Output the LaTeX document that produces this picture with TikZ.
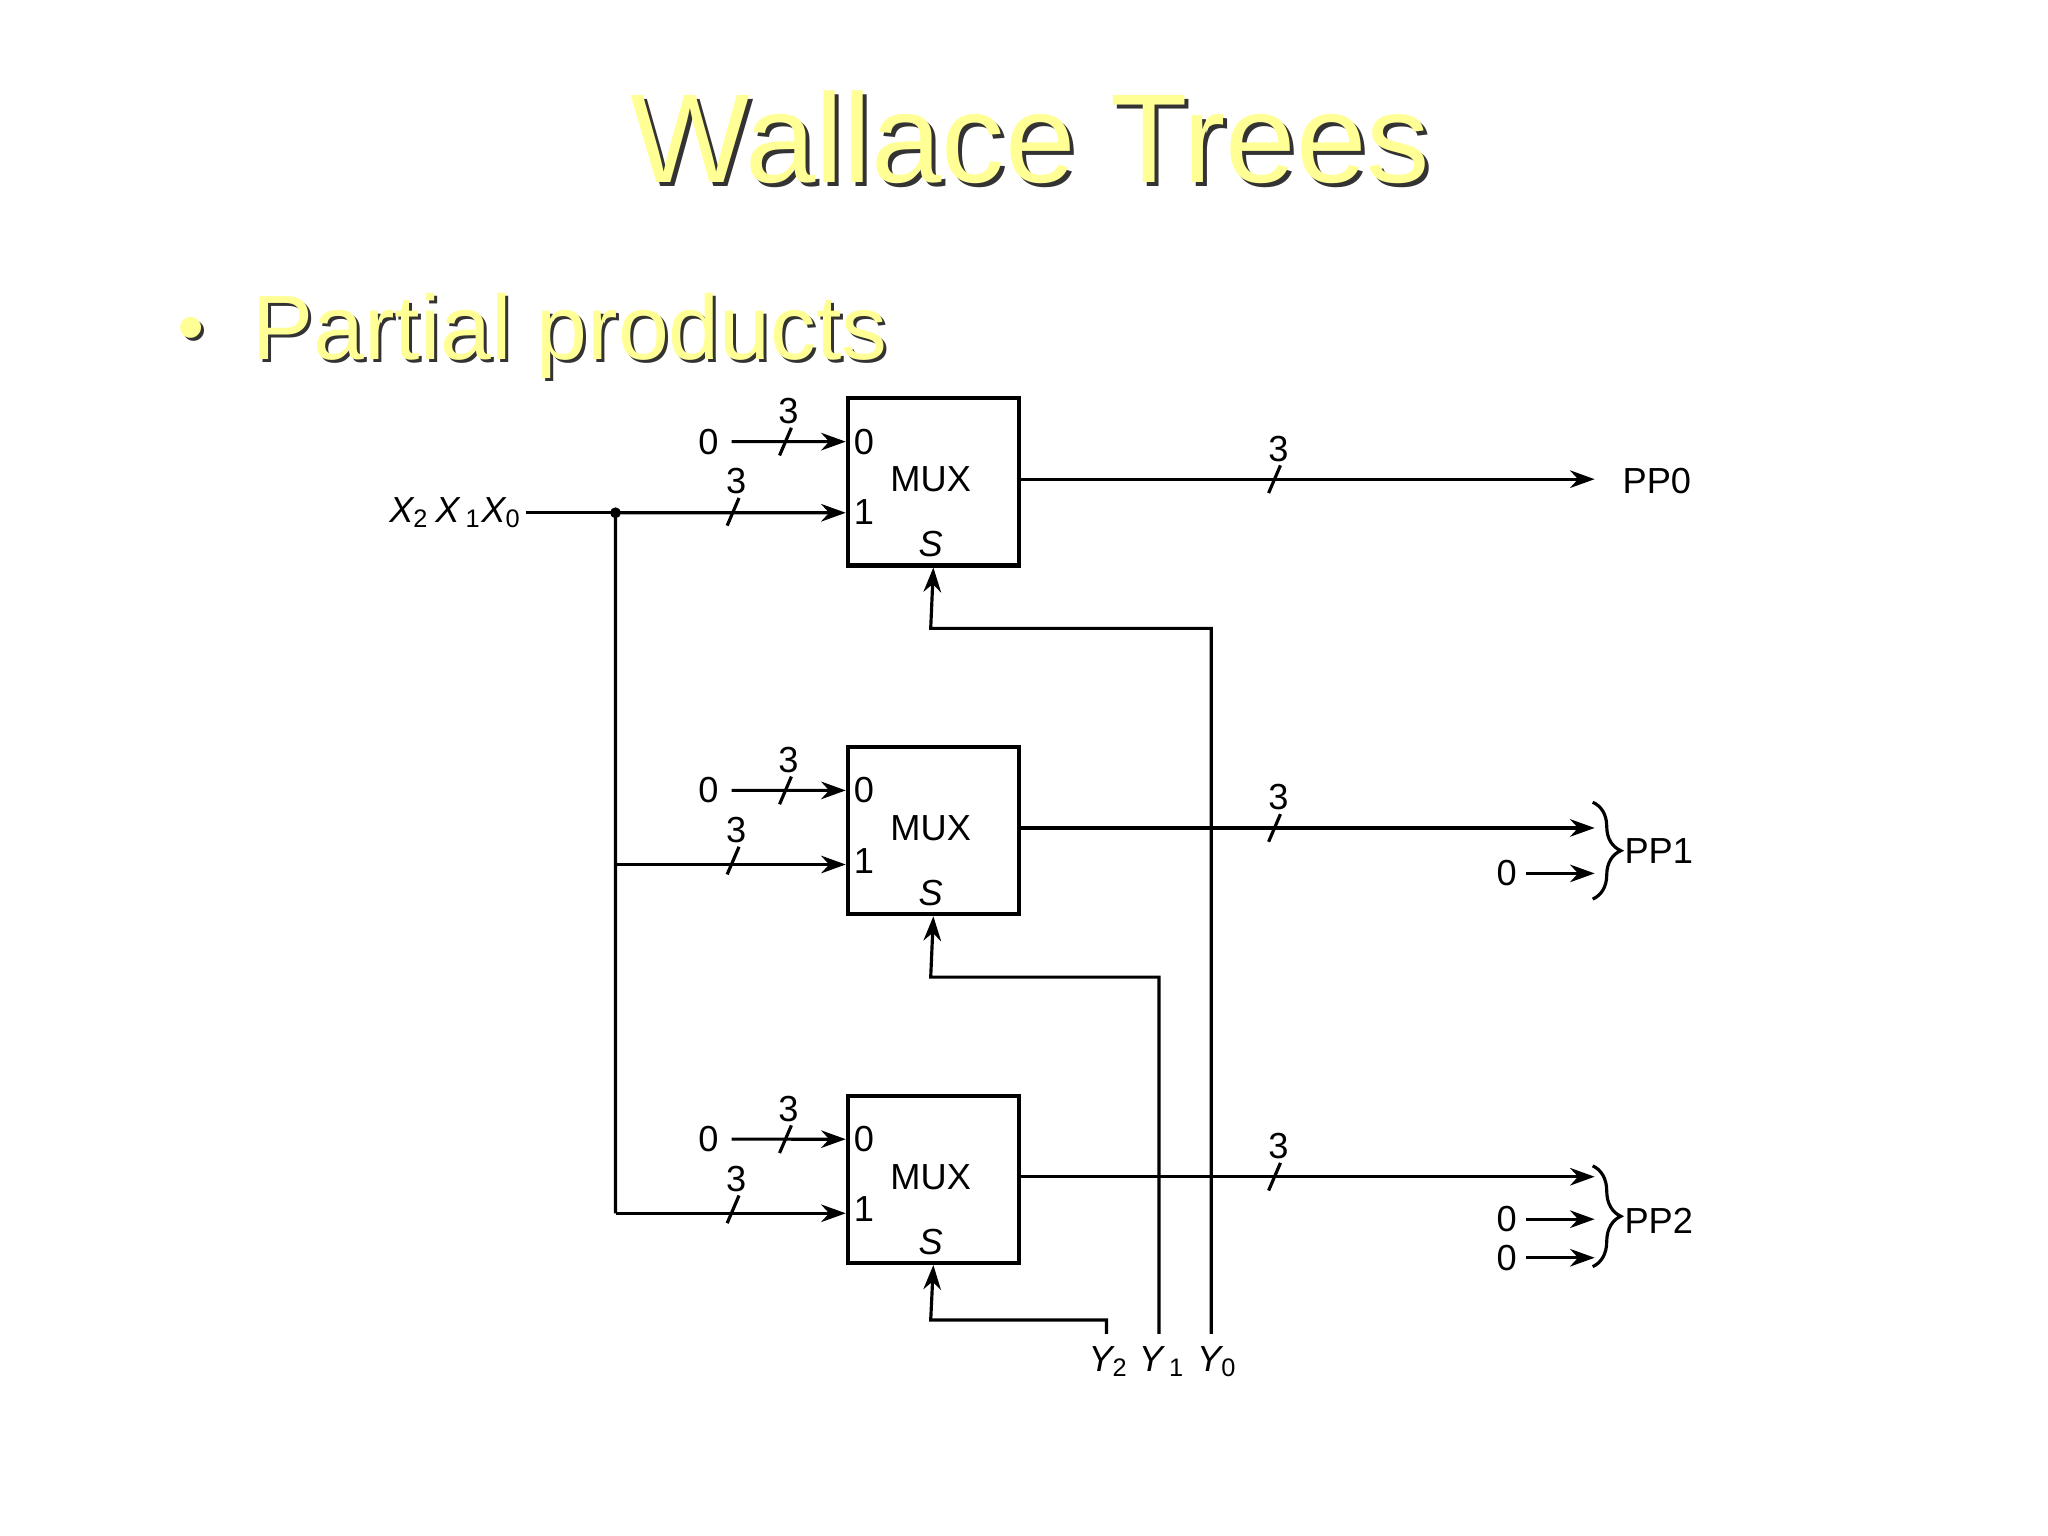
\documentclass[tikz,border=0pt]{standalone}
\usepackage{fontspec}
\setmainfont{Liberation Sans}
\usetikzlibrary{decorations.pathreplacing,arrows.meta}
\definecolor{ttl}{RGB}{255,255,150}
\newcommand{\sub}[1]{\textsubscript{\upshape #1}}
\begin{document}
\begin{tikzpicture}[x=0.01cm,y=-0.01cm,
  lbl/.style={font=\fontsize{10.3}{12}\selectfont,inner sep=1pt},
  mux/.style={draw,line width=1.2pt,minimum width=1.71cm,minimum height=1.67cm,anchor=north west,inner sep=0pt},
  wire/.style={line width=0.9pt},
  arr/.style={wire,-{Stealth[length=7pt,width=5pt]}}]
\useasboundingbox (0,0) rectangle (2048,1536);
% title
\node[text=black!80,font=\fontsize{36}{40}\selectfont] at (1034,141) {Wallace Trees};
\node[text=ttl,font=\fontsize{36}{40}\selectfont] at (1030,137) {Wallace Trees};
\node[text=black!80,font=\fontsize{22}{30}\selectfont,anchor=base west] at (168,356) {•};
\node[text=ttl,font=\fontsize{22}{30}\selectfont,anchor=base west] at (165,353) {•};
\node[text=black!80,font=\fontsize{26}{30}\selectfont,anchor=base west] at (243,362) {Partial products};
\node[text=ttl,font=\fontsize{26}{30}\selectfont,anchor=base west] at (240,359) {Partial products};
\begin{scope}[scale=0.988]
% X input
\node[lbl,anchor=east] (X) at (532,519) {\itshape X\sub{2}\,X\,\sub{1}X\sub{0}};
\coordinate (dot) at (623,519);
\fill (dot) circle (5.5);
\foreach \i/\t in {1/401,2/754,3/1107}{
  \node[mux] (box\i) at (856,\t) {};
  \node[lbl] at (942,\t+84) {MUX};
  \node[lbl,anchor=west] at (860,\t+46) {0};
  \node[lbl,anchor=west] at (860,\t+117) {1};
  \node[lbl] at (942,\t+150) {\itshape S};
  \node[lbl] (z\i) at (717,\t+46) {0};
  \draw[arr] (z\i.east)++(9,0) -- (856,\t+46);
  \draw[wire] (789,\t+60) -- (801,\t+32);
  \node[lbl] at (798,\t+15) {3};
  \draw[wire] (736,\t+131) -- (748,\t+103);
  \node[lbl] at (745,\t+86) {3};
  \draw[arr] (1029,\t+84) -- (1614,\t+84);
  \draw[wire] (1284,\t+98) -- (1296,\t+70);
  \node[lbl] at (1294,\t+53) {3};
}
\draw[wire] (X.east) -- (dot);
\draw[arr] (dot) -- (856,519);
\draw[wire] (dot) -- (623,1228);
\draw[arr] (623,875) -- (856,875);
\draw[arr] (623,1228) -- (856,1228);
% select lines
\node[lbl] (y2) at (1122,1378) {\itshape Y\sub{2}};
\node[lbl] (y1) at (1176,1378) {\itshape Y\,\sub{1}};
\node[lbl] (y0) at (1232,1378) {\itshape Y\sub{0}};
\draw[arr] (1120,1350) -- (1120,1336) -- (942,1336) -- (box3.south);
\draw[arr] (1173,1350) -- (1173,989) -- (942,989) -- (box2.south);
\draw[arr] (1226,1350) -- (1226,636) -- (942,636) -- (box1.south);
% outputs
\node[lbl,anchor=west] at (1638,487) {PP0};
\node[lbl] (o1) at (1525,884) {0};
\draw[arr] (1545,884) -- (1614,884);
\draw[wire,decorate,decoration={brace,amplitude=8pt}] (1612,812) -- (1612,910);
\node[lbl,anchor=west] at (1640,861) {PP1};
\node[lbl] (o2) at (1525,1234) {0};
\node[lbl] (o3) at (1525,1273) {0};
\draw[arr] (1545,1234) -- (1614,1234);
\draw[arr] (1545,1273) -- (1614,1273);
\draw[wire,decorate,decoration={brace,amplitude=8pt}] (1612,1180) -- (1612,1282);
\node[lbl,anchor=west] at (1640,1236) {PP2};
\end{scope}
\end{tikzpicture}
\end{document}
